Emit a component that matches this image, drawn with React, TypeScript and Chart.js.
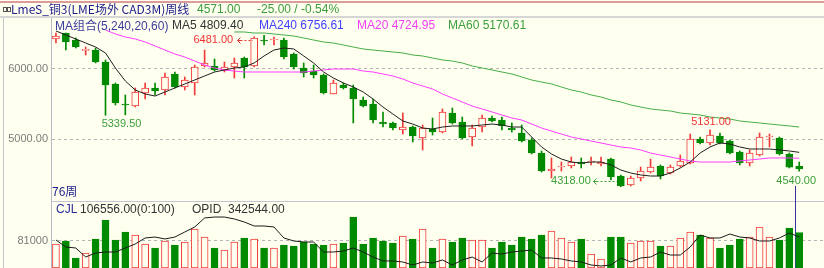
import React, { useEffect, useRef } from "react";
import { Chart, registerables } from "chart.js";

Chart.register(...registerables);

// ---------------- data ----------------
const openP = [
  6429, 6514, 6414, 6265, 6271, 6100, 5786, 5500, 5471, 5657,
  5729, 5700, 5929, 5743, 5800, 6043, 6043, 5986, 6029, 6157,
  6043, 6414, 6414, 6414, 6214, 6014, 5971, 5914, 5643, 5771,
  5729, 5557, 5500, 5243, 5229, 5129, 5171, 5014, 5143, 5100,
  5371, 5243, 5029, 5171, 5300, 5271, 5157, 5086, 4986, 4800,
  4543, 4600, 4614, 4671, 4671, 4643, 4714, 4471, 4343, 4443,
  4529, 4614, 4514, 4614, 4657, 5000, 4943, 5043, 4971, 4814,
  4657, 4771, 5029, 5014, 4786, 4614,
];
const highP = [
  6514, 6514, 6443, 6314, 6300, 6129, 5800, 5629, 5729, 5800,
  5800, 5943, 5957, 5886, 6057, 6270, 6143, 6100, 6157, 6171,
  6460, 6481, 6457, 6443, 6229, 6086, 6057, 5929, 5843, 5800,
  5771, 5600, 5571, 5386, 5243, 5371, 5186, 5200, 5300, 5429,
  5443, 5314, 5200, 5343, 5329, 5314, 5229, 5200, 5014, 4829,
  4729, 4671, 4743, 4729, 4743, 4743, 4729, 4486, 4471, 4600,
  4714, 4629, 4629, 4771, 5071, 5029, 5131, 5086, 4986, 4829,
  4843, 5086, 5071, 5029, 4800, 4671,
];
const lowP = [
  6371, 6271, 6300, 6200, 6086, 5339.5, 5486, 5345, 5457, 5571,
  5629, 5629, 5729, 5700, 5629, 6029, 5971, 5957, 5871, 5871,
  6029, 6343, 6343, 6143, 6000, 5886, 5871, 5643, 5643, 5714,
  5229, 5457, 5229, 5171, 5129, 5071, 4957, 4843, 5057, 5086,
  5214, 5000, 4900, 5100, 5243, 5129, 5100, 4957, 4786, 4529,
  4443, 4543, 4586, 4586, 4629, 4614, 4414, 4318, 4329, 4400,
  4514, 4429, 4500, 4600, 4643, 4929, 4914, 4929, 4786, 4629,
  4614, 4757, 4886, 4771, 4586, 4540,
];
const closeP = [
  6471, 6386, 6314, 6275, 6100, 5771, 5514, 5486, 5671, 5729,
  5686, 5886, 5743, 5843, 6029, 6086, 5986, 6029, 6086, 6029,
  6443, 6400, 6429, 6171, 6029, 5943, 5914, 5657, 5800, 5729,
  5571, 5471, 5271, 5214, 5157, 5171, 5043, 5157, 5100, 5386,
  5229, 5014, 5157, 5300, 5257, 5186, 5129, 4971, 4800, 4543,
  4571, 4614, 4671, 4643, 4686, 4671, 4457, 4329, 4443, 4543,
  4600, 4471, 4600, 4686, 5000, 4943, 5057, 4943, 4800, 4657,
  4800, 5029, 5043, 4786, 4596, 4571,
];
const ma5 = [
  6543, 6486, 6429, 6371, 6314, 6229, 6014, 5829, 5700, 5643,
  5614, 5671, 5729, 5786, 5843, 5900, 5957, 5986, 6014, 6029,
  6086, 6186, 6271, 6300, 6286, 6186, 6086, 5957, 5871, 5800,
  5743, 5671, 5571, 5457, 5357, 5257, 5214, 5157, 5143, 5171,
  5186, 5186, 5186, 5200, 5214, 5200, 5171, 5171, 5029, 4886,
  4786, 4714, 4671, 4657, 4671, 4671, 4629, 4557, 4514, 4486,
  4471, 4471, 4514, 4586, 4671, 4800, 4886, 4943, 4929, 4886,
  4857, 4857, 4857, 4843, 4829, 4809.4,
];
const ma20 = [
  null, null, null, null, null, 6557, 6500, 6457, 6429, 6386,
  6329, 6271, 6214, 6171, 6114, 6057, 6014, 5986, 5971, 5957,
  5957, 5957, 5957, 5957, 5957, 5957, 5971, 5986, 6000, 6000,
  6000, 5971, 5957, 5929, 5900, 5857, 5800, 5757, 5714, 5643,
  5586, 5529, 5471, 5429, 5386, 5343, 5300, 5271, 5214, 5157,
  5114, 5071, 5029, 5000, 4971, 4943, 4914, 4886, 4871, 4843,
  4800, 4771, 4743, 4714, 4686, 4671, 4671, 4671, 4671, 4686,
  4700, 4714, 4729, 4729, 4729, 4724.95,
];
const ma60 = [
  null, null, null, null, null, null, null, null, null, null,
  null, null, null, null, null, null, null, null, 6529, 6529,
  6514, 6514, 6500, 6486, 6471, 6443, 6414, 6386, 6371, 6343,
  6314, 6286, 6271, 6257, 6243, 6229, 6200, 6186, 6157, 6129,
  6114, 6086, 6043, 6014, 5986, 5957, 5929, 5886, 5843, 5814,
  5786, 5743, 5700, 5671, 5629, 5600, 5557, 5529, 5486, 5457,
  5429, 5414, 5400, 5371, 5357, 5343, 5314, 5300, 5286, 5257,
  5243, 5229, 5214, 5200, 5186, 5170.61,
];
const ma240Last = 6756.61;
const volume = [
  72000, 81000, 30000, 45000, 87000, 144000, 84000, 108000, 99000, 72000,
  60000, 81000, 69000, 78000, 117000, 93000, 60000, 54000, 78000, 90000,
  87000, 60000, 60000, 69000, 66000, 78000, 72000, 69000, 72000, 75000,
  153000, 72000, 90000, 81000, 75000, 96000, 87000, 117000, 60000, 87000,
  78000, 90000, 84000, 84000, 60000, 78000, 69000, 93000, 87000, 99000,
  111000, 90000, 78000, 87000, 42000, 27000, 93000, 93000, 75000, 81000,
  81000, 66000, 66000, 90000, 108000, 99000, 90000, 60000, 69000, 87000,
  93000, 123000, 93000, 84000, 120000, 106556,
];
const opid = [
  337500, 325600, 323900, 308600, 315400, 317100, 317100, 323900, 330700, 340900,
  342500, 339200, 342500, 351000, 359500, 374800, 376400, 376400, 373100, 368000,
  361200, 361200, 359500, 340900, 335800, 334100, 334100, 317100, 317100, 318800,
  323900, 317100, 308600, 301900, 301900, 300200, 295100, 300200, 298500, 303600,
  295100, 303600, 308600, 300200, 315400, 313700, 317100, 318800, 320500, 307000,
  307000, 305300, 301900, 300200, 295100, 293400, 295100, 307000, 300200, 307000,
  308600, 317100, 312000, 312000, 325600, 345900, 340900, 340900, 347600, 342500,
  340900, 335800, 335800, 340900, 349300, 342544,
];
const priceTicks = [5000, 6000];
const volumeTicks = [81000];
const markIndex = [20, 5, 57, 66, 75];
const markValue = [6481, 5339.5, 4318, 5131, 4540];

// ---------------- styles ----------------
const BG = "#fffff0";
const UP = "#f03a3a";
const DOWN = "#008a00";
const UPTEXT = "#ee3333";
const DOWNTEXT = "#3ca03c";
const FONT = '"Liberation Sans", Arial, sans-serif';
const CJK = '"Noto Sans CJK SC", "Liberation Sans", sans-serif';

const idx = openP.map((_, i) => i);
const isUp = (i: number) => closeP[i] >= openP[i];
const n = openP.length;

const xScale = { type: "linear", min: -0.5, max: 77.5, display: false, offset: false };

function yAxis(ticks: number[], fmt: (v: number) => string, min: number, max: number) {
  return {
    position: "left",
    min,
    max,
    beginAtZero: false,
    afterBuildTicks: (s: any) => {
      s.ticks = ticks.map((v) => ({ value: v }));
    },
    afterFit: (s: any) => {
      s.width = 51;
      s.paddingTop = 0;
      s.paddingBottom = 0;
    },
    ticks: {
      callback: (v: any) => fmt(Number(v)),
      color: "#7c7c7c",
      font: { family: FONT, size: 11 },
      padding: 3,
      autoSkip: false,
    },
    grid: { color: "#b4b4b4", drawTicks: false, lineWidth: 1 },
    border: { display: true, color: "#b8b8c8", width: 1, dash: [3, 3] },
  };
}

const markPlacement = [
  { align: "right", dx: -21, dy: 5, arrow: [-17, -1], color: UPTEXT },
  { align: "center", dx: 16, dy: 9, arrow: null, color: DOWNTEXT },
  { align: "right", dx: -30, dy: -6, arrow: [-28, -4], color: DOWNTEXT },
  { align: "center", dx: 1, dy: -8, arrow: null, color: UPTEXT },
  { align: "center", dx: -3, dy: 9.5, arrow: null, color: DOWNTEXT },
];

const markPlugin = {
  id: "marks",
  afterDatasetsDraw(chart: any) {
    const { ctx, scales } = chart;
    const xs = scales.x;
    const ys = scales.y;
    ctx.save();
    ctx.font = `11px ${FONT}`;
    ctx.textBaseline = "middle";
    markIndex.forEach((mi, k) => {
      const p = markPlacement[k];
      const px = xs.getPixelForValue(mi);
      const py = ys.getPixelForValue(markValue[k]);
      const ty = py + p.dy;
      ctx.fillStyle = p.color;
      ctx.textAlign = p.align;
      ctx.fillText(markValue[k].toFixed(2), px + p.dx, ty);
      if (p.arrow) {
        const a0 = Math.round(px + p.arrow[0]) + 0.5;
        const a1 = Math.round(px + p.arrow[1]);
        const ay = Math.round(ty) + 0.5;
        ctx.strokeStyle = p.color;
        ctx.lineWidth = 1;
        ctx.beginPath();
        ctx.moveTo(a0 + 3, ay - 3);
        ctx.lineTo(a0, ay);
        ctx.lineTo(a0 + 3, ay + 3);
        ctx.moveTo(a0, ay);
        ctx.lineTo(a0 + 5, ay);
        ctx.stroke();
        ctx.setLineDash([2, 2]);
        ctx.beginPath();
        ctx.moveTo(a0 + 7, ay);
        ctx.lineTo(a1, ay);
        ctx.stroke();
        ctx.setLineDash([]);
      }
    });
    ctx.restore();
  },
};

const common = {
  responsive: false,
  animation: false,
  devicePixelRatio: 1,
  events: [],
  layout: { padding: 0 },
  plugins: { legend: { display: false }, tooltip: { enabled: false } },
};

function priceConfig(): any {
  const line = (data: (number | null)[], color: string) => ({
    type: "line",
    data: idx.map((i) => ({ x: i, y: data[i] })),
    borderColor: color,
    borderWidth: 1,
    pointRadius: 0,
    tension: 0,
    spanGaps: false,
    order: 0,
  });
  return {
    type: "bar",
    data: {
      datasets: [
        line(ma5, "#1e1e1e"),
        line(ma20, "#ff3cff"),
        line(ma60, "#46ad46"),
        {
          type: "bar",
          data: idx.map((i) => ({ x: i, y: [openP[i], closeP[i]] })),
          backgroundColor: idx.map((i) => (isUp(i) ? BG : DOWN)),
          borderColor: idx.map((i) => (isUp(i) ? UP : DOWN)),
          borderWidth: 1,
          borderSkipped: false,
          barThickness: 7,
          minBarLength: 1,
          grouped: false,
          order: 1,
        },
        {
          type: "bar",
          data: idx.map((i) => ({ x: i, y: [lowP[i], highP[i]] })),
          backgroundColor: idx.map((i) => (isUp(i) ? UP : DOWN)),
          borderWidth: 0,
          barThickness: 1,
          grouped: false,
          order: 2,
        },
      ],
    },
    options: {
      ...common,
      scales: {
        x: xScale,
        y: yAxis(priceTicks, (v) => v.toFixed(2), 4114.286, 6728.571),
      },
    },
    plugins: [markPlugin],
  };
}

function volumeConfig(): any {
  return {
    type: "bar",
    data: {
      datasets: [
        {
          type: "line",
          data: idx.map((i) => ({ x: i, y: opid[i] })),
          yAxisID: "y2",
          borderColor: "#1a1a1a",
          borderWidth: 1,
          pointRadius: 0,
          tension: 0,
          order: 0,
        },
        {
          type: "bar",
          data: idx.map((i) => ({ x: i, y: volume[i] })),
          backgroundColor: idx.map((i) => (isUp(i) ? BG : DOWN)),
          borderColor: idx.map((i) => (isUp(i) ? UP : DOWN)),
          borderWidth: 1,
          borderSkipped: false,
          barThickness: 7,
          grouped: false,
          order: 1,
        },
      ],
    },
    options: {
      ...common,
      scales: {
        x: xScale,
        y: yAxis(volumeTicks, (v) => String(Math.round(v)), 0, 198000),
        y2: { display: false, min: 290000, max: 401870 },
      },
    },
  };
}

const lastClose = closeP[n - 1];
const prevClose = closeP[n - 2];
const change = lastClose - prevClose;
const changePct = (change / prevClose) * 100;

const abs = (extra: any): any => ({ position: "absolute", whiteSpace: "nowrap", ...extra });

export default function App() {
  const priceRef = useRef<HTMLCanvasElement>(null);
  const volRef = useRef<HTMLCanvasElement>(null);
  useEffect(() => {
    const c1 = new Chart(priceRef.current as HTMLCanvasElement, priceConfig());
    const c2 = new Chart(volRef.current as HTMLCanvasElement, volumeConfig());
    return () => {
      c1.destroy();
      c2.destroy();
    };
  }, []);

  const txt = { fontFamily: FONT, fontSize: 12, lineHeight: "14px" };
  return (
    <div
      style={{
        position: "fixed",
        left: 0,
        top: 0,
        width: 824,
        height: 268,
        overflow: "hidden",
        background: BG,
      }}
    >
      {/* frame */}
      <div style={abs({ left: 0, top: 1, width: 824, height: 2, background: "#dc9c9c" })} />
      <div style={abs({ left: 0, top: 16, width: 824, height: 2, background: "#d6d6d6" })} />
      <div style={abs({ left: 3, top: 18, width: 1, height: 250, background: "#c4c4cc" })} />
      <div style={abs({ left: 51, top: 201, width: 773, height: 1, background: "#c4c4d4" })} />
      <div style={abs({ left: 795, top: 186, width: 1, height: 82, background: "#3434a4" })} />

      <canvas ref={priceRef} width={824} height={183} style={{ position: "absolute", left: 0, top: 18 }} />
      <canvas ref={volRef} width={824} height={66} style={{ position: "absolute", left: 0, top: 202 }} />

      {/* header */}
      <div style={abs({ left: 3, top: 7, width: 2, height: 3, border: "1px solid #555" })} />
      <div style={abs({ left: 7, top: 7, width: 2, height: 3, border: "1px solid #555" })} />
      <span style={abs({ left: 11, top: 2, ...txt, fontFamily: CJK, color: "#1c1c8a" })}>
        LmeS_铜3(LME场外 CAD3M)周线
      </span>
      <span style={abs({ left: 197, top: 2, ...txt, color: "#3c9c3c" })}>{lastClose.toFixed(2)}</span>
      <span style={abs({ left: 257, top: 2, ...txt, color: "#3c9c3c" })}>
        {change.toFixed(2)} / {changePct.toFixed(2)}%
      </span>

      {/* MA legend */}
      <span style={abs({ left: 55, top: 18, ...txt, color: "#3c3c9c" })}>
        MA<span style={{ fontFamily: CJK }}>组合</span>(5,240,20,60)
      </span>
      <span style={abs({ left: 172, top: 18, ...txt, color: "#333333" })}>MA5 {ma5[n - 1]!.toFixed(2)}</span>
      <span style={abs({ left: 259, top: 18, ...txt, color: "#4040ff" })}>MA240 {ma240Last.toFixed(2)}</span>
      <span style={abs({ left: 357, top: 18, ...txt, color: "#f040f0" })}>MA20 {(ma20[n - 1] as number).toFixed(2)}</span>
      <span style={abs({ left: 448, top: 18, ...txt, color: "#3ca03c" })}>MA60 {(ma60[n - 1] as number).toFixed(2)}</span>

      <span style={abs({ left: 52, top: 184, ...txt, fontFamily: CJK, color: "#1c1c8a" })}>{n}周</span>

      {/* volume legend */}
      <span style={abs({ left: 56, top: 202, ...txt, color: "#2c2c9c" })}>CJL</span>
      <span style={abs({ left: 80, top: 202, ...txt, color: "#333333" })}>{volume[n - 1].toFixed(2)}(0:100)</span>
      <span style={abs({ left: 192, top: 202, ...txt, color: "#333333" })}>OPID</span>
      <span style={abs({ left: 228, top: 202, ...txt, color: "#333333" })}>{opid[n - 1].toFixed(2)}</span>
    </div>
  );
}
